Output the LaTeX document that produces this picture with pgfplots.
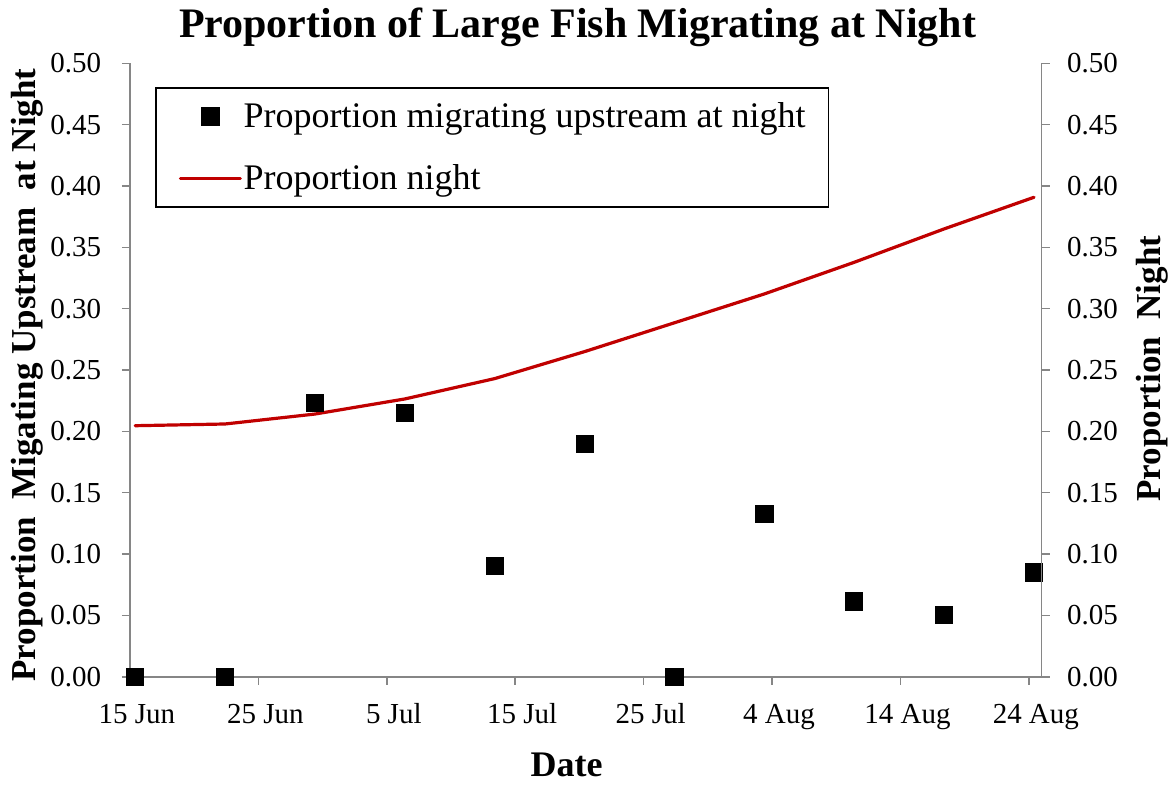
\documentclass[border=0pt]{standalone}
\usepackage{pgfplots}
\pgfplotsset{compat=1.18}
\usepackage{fontspec}
\setmainfont{Liberation Serif}
\definecolor{axgray}{RGB}{134,134,134}
\definecolor{nightred}{RGB}{192,0,0}

\pgfplotstableread{
day prop
0.4  0.0
7.4  0.0
14.4 0.2229
21.4 0.2152
28.4 0.0903
35.4 0.1897
42.4 0.0
49.4 0.1326
56.4 0.0614
63.4 0.0503
70.4 0.0851
}\upstream

\pgfplotstableread{
day night
0.4  0.2046
7.4  0.2060
14.4 0.2141
21.4 0.2264
28.4 0.2430
35.4 0.2650
42.4 0.2885
49.4 0.3120
56.4 0.3378
63.4 0.3650
70.4 0.3908
}\nightprop

\pgfplotsset{
  marklegend/.style={legend image code/.code={\pgfpathrectangle{\pgfpoint{0pt}{-1pt}}{\pgfpoint{30pt}{2pt}}\pgfusepath{}\draw[##1] plot coordinates {(15pt,0pt)};}},
  linelegend/.style={legend image code/.code={\draw[##1] (0pt,0pt) -- (30pt,0pt);}},
}

\begin{document}
\begin{tikzpicture}
\pgfplotsset{
  common/.style={
    at={(0,0)}, anchor=south west,
    scale only axis, width=455.85pt, height=306.7pt,
    xmin=0, xmax=71, ymin=0, ymax=0.5,
    tick align=outside,
    major tick length=4pt,
    axis line style={axgray, line width=0.8pt},
    tick style={axgray, line width=0.8pt},
    ytick={0,0.05,0.1,0.15,0.2,0.25,0.3,0.35,0.4,0.45,0.5},
    scaled y ticks=false,
    yticklabel style={/pgf/number format/fixed, /pgf/number format/fixed zerofill, /pgf/number format/precision=2, /pgf/number format/assume math mode=true},
    tick label style={font=\fontsize{14.5}{17}\selectfont, inner sep=0pt},
    label style={font=\bfseries\fontsize{17.5}{21}\selectfont},
  }
}
\begin{axis}[common,
  axis x line*=bottom, axis y line*=left,
  xtick={0,10,20,30,40,50,60,70},
  xticklabels={15 Jun,25 Jun,5 Jul,15 Jul,25 Jul,4 Aug,14 Aug,24 Aug},
  xticklabel style={anchor=base, yshift=-19.2pt, xshift=3.5pt},
  yticklabel style={anchor=east, xshift=-10.2pt},
  title={Proportion of Large Fish Migrating at Night},
  title style={at={(axis description cs:0.491,1.0429)}, anchor=base, yshift=-6pt, font=\bfseries\fontsize{21}{25}\selectfont},
  xlabel={Date},
  xlabel style={at={(axis description cs:0.4788,-0.1619)}, anchor=base, font=\bfseries\fontsize{18}{21}\selectfont},
  ylabel={Proportion\ \ Migating Upstream\ \ at Night},
  ylabel style={at={(axis description cs:-0.1130,0.4918)}, anchor=center},
  legend style={at={(axis description cs:0.0274,0.9614)}, anchor=north west,
    draw=black, line width=0.8pt, inner xsep=11.5pt, inner ysep=7.3pt,
    font=\fontsize{18}{21.6}\selectfont, row sep=16.9pt, column sep=0.8pt,
    nodes={inner sep=0pt}},
  legend cell align=left,
]
\addplot[only marks, mark=square*, mark size=4.3pt, mark options={fill=black, draw=black, line width=0.4pt}, marklegend]
  table[x=day, y=prop] {\upstream};
\addlegendentry{Proportion migrating upstream at night}
\addplot[nightred, line width=1.6pt, line cap=round, line join=round, no marks, linelegend]
  table[x=day, y=night] {\nightprop};
\addlegendentry{Proportion night}
\end{axis}
\begin{axis}[common,
  axis x line=none, axis y line*=right,
  yticklabel style={anchor=west, xshift=8.5pt},
  ylabel={Proportion\ \ Night},
  ylabel style={at={(axis description cs:1.1215,0.5024)}, anchor=center},
]
\addplot[draw=none, forget plot] coordinates {(0,0)};
\end{axis}
\pgfresetboundingbox
\path[use as bounding box] (-65pt,-53.65pt) rectangle (523pt,338.35pt);
\end{tikzpicture}
\end{document}
